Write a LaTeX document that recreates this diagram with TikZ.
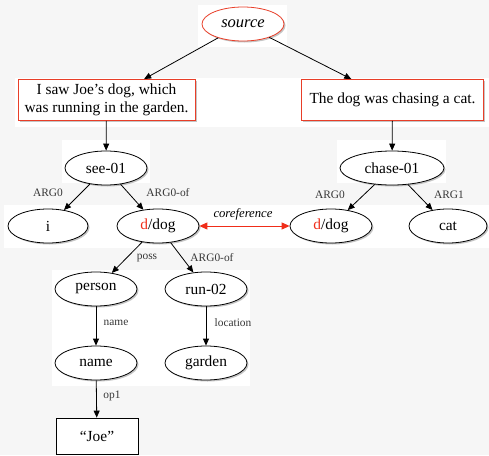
\documentclass[tikz,border=0pt]{standalone}
\usepackage{fontspec}
\setmainfont{Liberation Serif}
\usetikzlibrary{shapes.geometric,arrows.meta,shadows}
\definecolor{bggray}{RGB}{246,246,246}
\definecolor{mred}{RGB}{232,62,40}
\definecolor{tred}{RGB}{240,45,25}
\definecolor{lblgray}{RGB}{55,55,55}
\begin{document}
\begin{tikzpicture}[x=1pt,y=-1pt,
  shade/.style={drop shadow={opacity=0.45,shadow xshift=1.5pt,shadow yshift=-1.5pt}},
  ell/.style={ellipse, draw=black, line width=0.8pt, fill=white, minimum width=82pt, minimum height=34pt, inner sep=0pt, font=\fontsize{15.4}{18}\selectfont, shade},
  redbox/.style={rectangle, draw=mred, line width=0.9pt, fill=white, inner sep=0pt, align=center, font=\fontsize{15.4}{18}\selectfont, shade},
  conn/.style={draw, line width=0.8pt, -{Triangle[length=7pt,width=6pt]}},
  lbl/.style={font=\fontsize{11.4}{13}\selectfont, text=lblgray, inner sep=0pt}
]
\useasboundingbox (0,0) rectangle (489,455);
\fill[bggray] (0,0) rectangle (489,455);
\fill[white] (198,5) rectangle (287,47);
\fill[white] (15,78) rectangle (489,127);
\fill[white] (62,140) rectangle (150,183);
\fill[white] (337,140) rectangle (446,183);
\fill[white] (4,205) rectangle (489,248);
\fill[white] (52,270) rectangle (250,386);

\node[ell, draw=mred, font=\fontsize{16.5}{18}\selectfont\itshape] (source) at (243,24) {source};
\node[redbox, minimum width=177pt, minimum height=41pt] (box1) at (106.5,100) {I saw Joe’s dog, which\\was running in the garden.};
\node[redbox, minimum width=182pt, minimum height=41pt] (box2) at (392.5,100) {The dog was chasing a cat.};

\node[ell] (see) at (106,168) {see-01};
\node[ell, minimum width=104pt] (chase) at (392,168) {chase-01};
\node[ell, minimum width=80pt] (i) at (48,226) {i};
\node[ell] (dog1) at (158,226) {\textcolor{tred}{d}/dog};
\node[ell] (dog2) at (331,226) {\textcolor{tred}{d}/dog};
\node[ell, minimum width=78pt] (cat) at (448,226) {cat};
\node[ell] (person) at (96,289) {person};
\node[ell] (run) at (206,289) {run-02};
\node[ell] (name) at (96,363) {name};
\node[ell] (garden) at (206,363) {garden};
\node[rectangle, draw=black, line width=0.8pt, fill=white, minimum width=82pt, minimum height=36pt, inner sep=0pt, font=\fontsize{15.4}{18}\selectfont] (joe) at (97,436) {“Joe”};

\draw[conn] (source) -- (box1);
\draw[conn] (source) -- (box2);
\draw[conn] (box1) -- (see);
\draw[conn] (box2) -- (chase);
\draw[conn] (see) -- (i);
\draw[conn] (see) -- (dog1);
\draw[conn] (chase) -- (dog2);
\draw[conn] (chase) -- (cat);
\draw[conn] (dog1) -- (person);
\draw[conn] (dog1) -- (run);
\draw[conn] (person) -- (name);
\draw[conn] (run) -- (garden);
\draw[conn] (name) -- (joe);
\draw[draw=tred, line width=0.9pt, {Triangle[length=8pt,width=7pt]}-{Triangle[length=8pt,width=7pt]}] (dog1) -- (dog2);

\node[lbl] (l1) at (48,193) {ARG0};
\node[lbl] (l2) at (168,193) {ARG0-of};
\node[lbl] (l3) at (330,195) {ARG0};
\node[lbl] (l4) at (449,195) {ARG1};
\node[lbl] (l5) at (147,258) {poss};
\node[lbl] (l6) at (212,258) {ARG0-of};
\node[lbl] (l7) at (116,323) {name};
\node[lbl] (l8) at (233,323) {location};
\node[lbl] (l9) at (112,396) {op1};
\node[font=\fontsize{12.7}{14}\selectfont\itshape, inner sep=0pt] (coref) at (243,214) {coreference};
\end{tikzpicture}
\end{document}
